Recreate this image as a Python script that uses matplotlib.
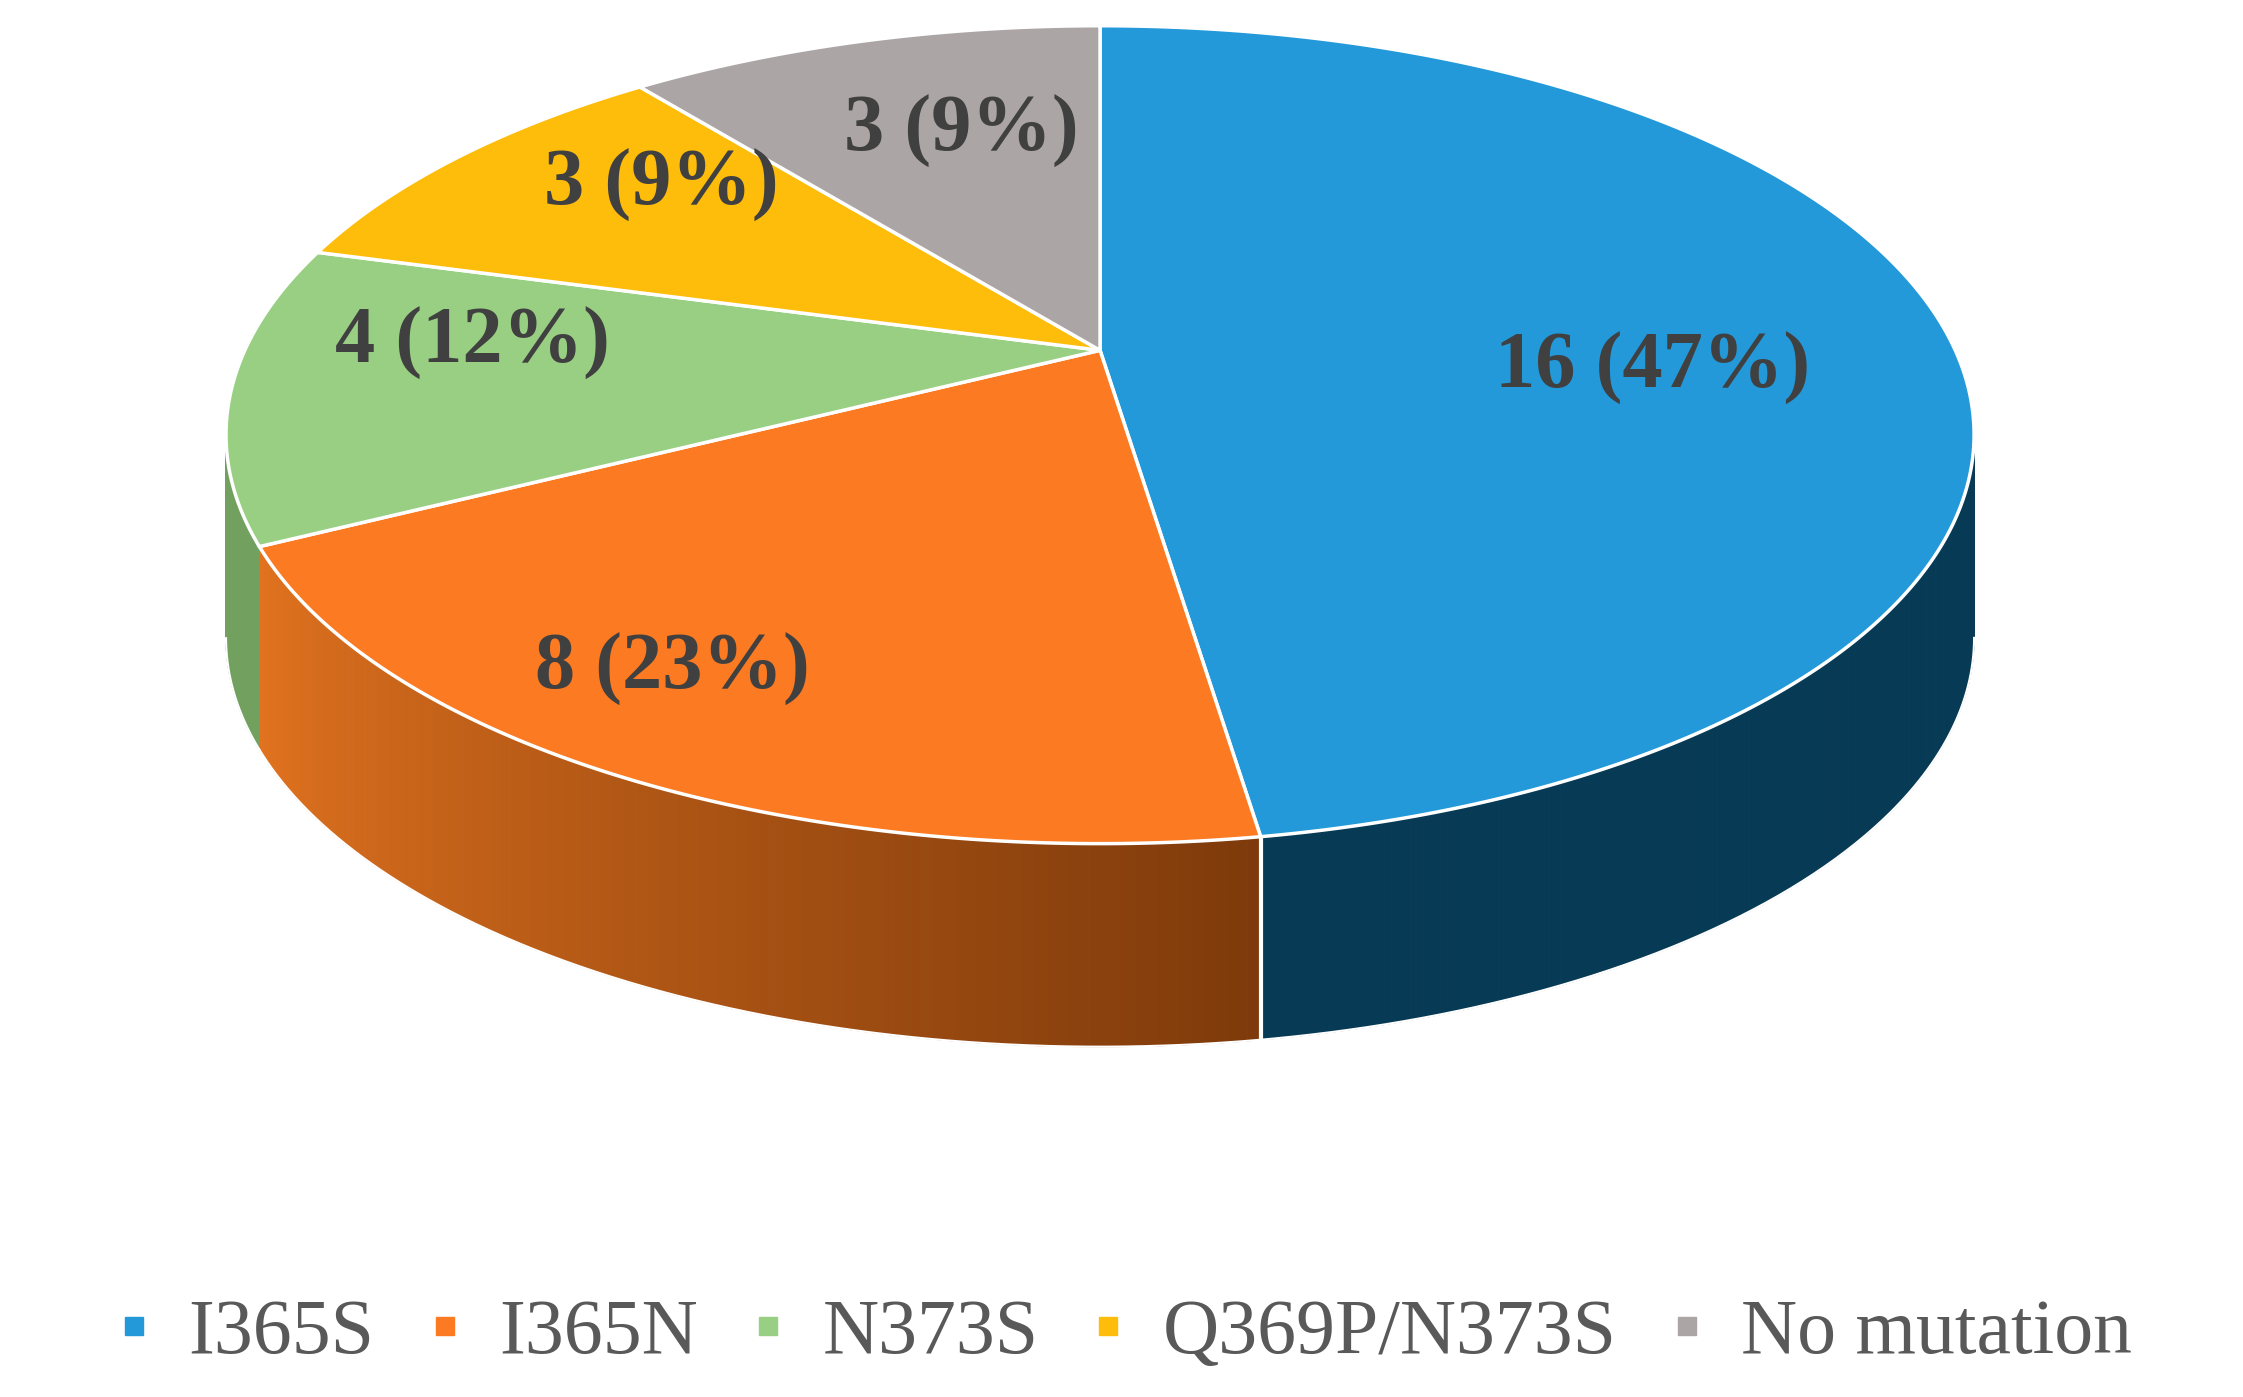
import numpy as np
import matplotlib
matplotlib.use("Agg")
import matplotlib.pyplot as plt
from matplotlib.patches import Polygon
from matplotlib.colors import to_rgb

categories = ["I365S", "I365N", "N373S", "Q369P/N373S", "No mutation"]
counts = [16, 8, 4, 3, 3]
labels = ["16 (47%)", "8 (23%)", "4 (12%)", "3 (9%)", "3 (9%)"]
colors = ["#2399d9", "#fb7a22", "#98cf82", "#fdbd0a", "#aba6a5"]
side_light = ["#073a55", "#e2731f", "#86b872", "#d9a208", "#918c8b"]
side_dark = ["#073a55", "#7e3a0b", "#5d8a4c", "#9c7405", "#6a6665"]

fig = plt.figure(figsize=(22.43, 13.97), dpi=100)
ax = fig.add_axes([0, 0, 1, 1])
ax.set_xlim(0, 1568)
ax.set_ylim(977, 0)
ax.axis("off")

cx, cy, rx, ry = 769, 304, 611, 286
ax_c = (769, 245)
depth = 142

def pt(t):
    return cx + rx*np.cos(t), cy - ry*np.sin(t)

total = sum(counts)
bounds = [np.pi/2]
for c in counts:
    bounds.append(bounds[-1] - 2*np.pi*c/total)

for i in range(len(counts)):
    a0, a1 = bounds[i], bounds[i+1]
    ts = np.linspace(a0, a1, 400)
    vis = np.array([t for t in ts if np.sin(t) < 0])
    if len(vis) < 2:
        continue
    n = len(vis)
    for k in range(n-1):
        f = 1 - k/(n-1) if i == 1 else 0.5
        col = (1-f)*np.array(to_rgb(side_light[i])) + f*np.array(to_rgb(side_dark[i]))
        x0, y0 = pt(vis[k]); x1, y1 = pt(vis[k+1])
        ax.add_patch(Polygon([(x0, y0), (x1, y1), (x1, y1+depth), (x0, y0+depth)],
                             closed=True, fc=col, ec=col, lw=0.8, zorder=1))
    xs, ys = pt(vis)
    ax.plot(xs, ys+depth, color="white", lw=1.5, zorder=2)
bx, by = pt(bounds[1])
ax.plot([bx, bx], [by, by+depth], color="white", lw=3, zorder=2)

for i in range(len(counts)):
    ts = np.linspace(bounds[i], bounds[i+1], 300)
    xs, ys = pt(ts)
    verts = [ax_c] + list(zip(xs, ys))
    ax.add_patch(Polygon(verts, closed=True, fc=colors[i], ec="white", lw=2.5, zorder=3))

lab_pos = [(1155, 258), (470, 468), (330, 240), (462, 130), (672, 92)]
for (x, y), s in zip(lab_pos, labels):
    ax.text(x, y, s, ha="center", va="center", fontsize=58, fontweight="bold",
            family="Liberation Serif", color="#404040", zorder=5)

handles = [plt.Line2D([], [], marker="s", ls="", color=c, markersize=13) for c in colors]
fig.legend(handles, categories, loc="center", bbox_to_anchor=(0.5, 0.045), ncol=5,
           frameon=False, prop={"family": "Liberation Serif", "size": 56},
           labelcolor="#595959", handlelength=0.6, handletextpad=0.4, columnspacing=0.6)

fig.savefig("out.png", dpi=100)
